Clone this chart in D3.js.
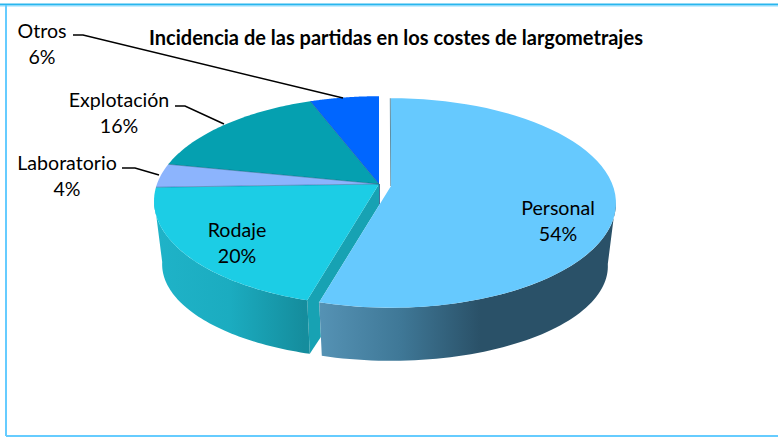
<!DOCTYPE html>
<html><head><meta charset="utf-8">
<script src="https://cdn.jsdelivr.net/npm/d3@7"></script>
<style>html,body{margin:0;padding:0;background:#fff}svg{display:block}text{font-family:Lato,"Open Sans",sans-serif}</style>
</head><body><svg id="c" width="778" height="437"></svg>
<script>
const categories=["Personal","Rodaje","Laboratorio","Explotación","Otros"];
const values=[54.4,20.1,3.7,16,5.8];
const colors=["#66c9fe","#1ccde5","#8cb4fd","#05a0b0","#0066ff"];
const title="Incidencia de las partidas en los costes de largometrajes";
const labelAnchors=[[558,208],[237,230],[67,163],[119,100],[42,31]];
const leaders=[null,null,[[122,168],[135,168],[159,175]],[[175,106],[185,106],[224,124]],[[73,35],[83,35],[343,98]]];

const svg=d3.select("#c");
const defs=svg.append("defs");
function grad(id,x1,x2,stops){
  const g=defs.append("linearGradient").attr("id",id).attr("gradientUnits","userSpaceOnUse")
    .attr("x1",x1).attr("x2",x2).attr("y1",0).attr("y2",0);
  stops.forEach(s=>g.append("stop").attr("offset",s[0]).attr("stop-color",s[1]));
}
grad("gP",320,480,[[0,"#5592b4"],[0.5,"#3f7897"],[1,"#2a5168"]]);
grad("gR",155,304,[[0,"#1fb3c8"],[0.5,"#1bacc0"],[1,"#158d9d"]]);

// frame
const frame=svg.append("g").attr("fill","none");
frame.append("path").attr("d","M0,4.5H778").attr("stroke","#29b6ee").attr("stroke-width",2);
frame.append("path").attr("d","M0,6H778").attr("stroke","#8fdcff").attr("stroke-width",1);
frame.append("path").attr("d","M6,5V436").attr("stroke","#66ccff").attr("stroke-width",2);
frame.append("path").attr("d","M6,436H778").attr("stroke","#66ccff").attr("stroke-width",2);

// perspective projection of the pie disc
const k=0.162, R=222, B=102, R2=214, B2=92, D=65;
const main={x:379,y:184}, personal={x:391,y:186};
const toRad=d3.scaleLinear().domain([0,360]).range([0,2*Math.PI]);
function topPt(c,a){const u=Math.sin(a),v=-Math.cos(a),w=1-k*v;return [c.x+R*u/w,c.y+B*v/w];}
function botPt(c,a){const u=Math.sin(a),v=-Math.cos(a),w=1-k*v;return [c.x+R2*u/w,c.y+D+B2*v/w];}
const line=d3.line();
const arcPts=(f,c,a0,a1)=>d3.range(0,61).map(i=>f(c,a0+(a1-a0)*i/60));
const arcs=d3.pie().sort(null).value(d=>d)(values);

function wall(c,a0,a1,fill){
  svg.append("path").attr("d",line(arcPts(topPt,c,a0,a1).concat(arcPts(botPt,c,a1,a0)))+"Z").attr("fill",fill);
}
function face(c,a,i){
  svg.append("path").attr("d",line([...arcPts(topPt,c,a.startAngle,a.endAngle),[c.x,c.y]])+"Z").attr("fill",colors[i]);
}

// dark cut of Otros
svg.append("path").attr("d",line([[main.x,main.y],[main.x,main.y+26]]))
   .attr("stroke","#0b3f78").attr("stroke-width",1.5).attr("fill","none");
// Rodaje wall and cut face
const bc=[main.x,main.y+D];
svg.append("path").attr("d",line([[main.x,main.y],topPt(main,arcs[1].startAngle),botPt(main,arcs[1].startAngle),bc])+"Z").attr("fill","#17a2b3");
wall(main,arcs[1].startAngle,toRad(262),"url(#gR)");
[1,2,3,4].forEach(i=>face(main,arcs[i],i));
// radial seams
[2,3,4].forEach(i=>{
  svg.append("path").attr("d",line([[main.x,main.y],topPt(main,arcs[i].startAngle)]))
     .attr("stroke","#0a3d66").attr("stroke-opacity",0.45).attr("stroke-width",0.8);
});
// white gap over Rodaje's cut, then Personal
const a0=arcs[0];
svg.append("path").attr("d",line([topPt(personal,a0.endAngle),botPt(personal,a0.endAngle),[personal.x,personal.y+D],[personal.x,personal.y]])+"Z").attr("fill","#fff");
svg.append("path").attr("d",line([[personal.x-0.7,topPt(personal,0)[1]],[personal.x-0.2,personal.y]]))
   .attr("stroke","#5f8ea3").attr("stroke-width",1);
wall(personal,toRad(98),a0.endAngle,"url(#gP)");
face(personal,a0,0);

// leaders
leaders.forEach(l=>{ if(l) svg.append("path").attr("d",line(l)).attr("fill","none").attr("stroke","#000").attr("stroke-width",1.5); });

// labels
const fmt=d3.format(".0f");
categories.forEach((c,i)=>{
  const t=svg.append("text").attr("x",labelAnchors[i][0]).attr("y",labelAnchors[i][1]+6.5)
    .attr("text-anchor","middle").attr("font-size",19.6).attr("fill","#000");
  t.append("tspan").text(c);
  t.append("tspan").attr("x",labelAnchors[i][0]).attr("dy",26).text(fmt(values[i])+"%");
});
svg.append("text").attr("x",396).attr("y",45).attr("text-anchor","middle").attr("font-size",20).attr("font-weight",700).attr("fill","#000").text(title);
</script></body></html>
